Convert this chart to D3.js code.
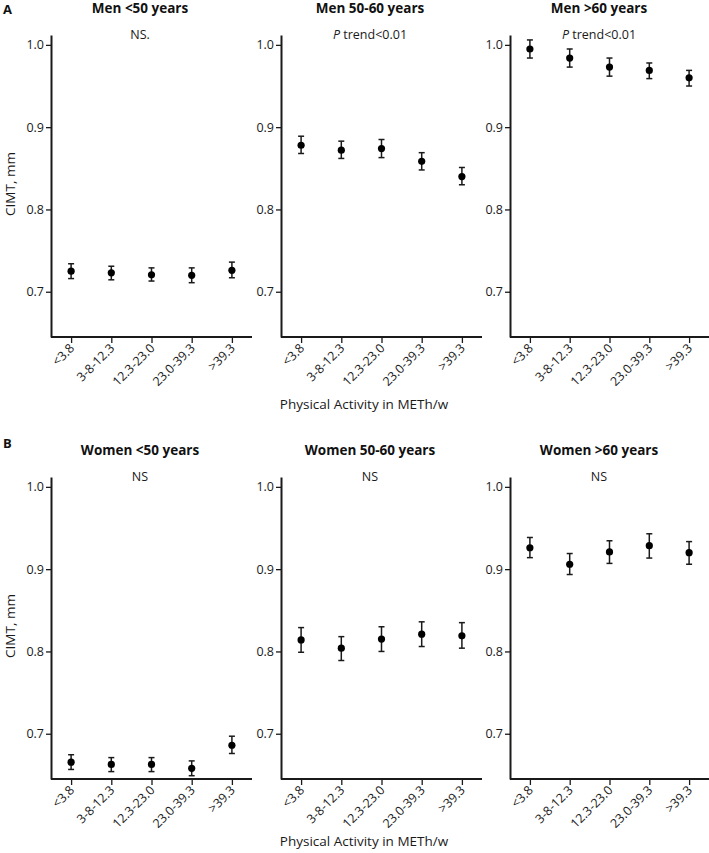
<!DOCTYPE html>
<html>
<head>
<meta charset="utf-8">
<script src="https://cdn.jsdelivr.net/npm/d3@7"></script>
<style>
  body { margin: 0; background: #fff; }
  svg { display: block; font-family: "Open Sans", "Noto Sans", sans-serif; }
</style>
</head>
<body>
<div id="chart"></div>
<script>
const categories = ["<3.8", "3-8-12.3", "12.3-23.0", "23.0-39.3", ">39.3"];
const yTicks = [0.7, 0.8, 0.9, 1.0];

const titles = ["Men <50 years", "Men 50-60 years", "Men >60 years",
                "Women <50 years", "Women 50-60 years", "Women >60 years"];
const notes = ["NS.", "P trend<0.01", "P trend<0.01", "NS", "NS", "NS"];

// means, lower, upper per panel
const menU50 = [0.725, 0.723, 0.7205, 0.720, 0.726];
const menU50Lo = [0.716, 0.7145, 0.713, 0.711, 0.717];
const menU50Hi = [0.734, 0.731, 0.729, 0.729, 0.736];

const men5060 = [0.878, 0.872, 0.874, 0.8585, 0.840];
const men5060Lo = [0.868, 0.862, 0.863, 0.848, 0.830];
const men5060Hi = [0.889, 0.883, 0.885, 0.869, 0.851];

const menO60 = [0.995, 0.984, 0.973, 0.969, 0.960];
const menO60Lo = [0.984, 0.973, 0.962, 0.959, 0.950];
const menO60Hi = [1.006, 0.995, 0.984, 0.978, 0.969];

const womU50 = [0.6655, 0.6627, 0.6627, 0.658, 0.686];
const womU50Lo = [0.6566, 0.654, 0.654, 0.649, 0.676];
const womU50Hi = [0.6745, 0.671, 0.671, 0.667, 0.697];

const wom5060 = [0.814, 0.804, 0.815, 0.821, 0.819];
const wom5060Lo = [0.799, 0.789, 0.800, 0.806, 0.804];
const wom5060Hi = [0.829, 0.818, 0.830, 0.836, 0.835];

const womO60 = [0.926, 0.906, 0.921, 0.9285, 0.920];
const womO60Lo = [0.914, 0.8935, 0.907, 0.9135, 0.906];
const womO60Hi = [0.9385, 0.919, 0.9345, 0.943, 0.9335];

const series = [
  [menU50, menU50Lo, menU50Hi], [men5060, men5060Lo, men5060Hi], [menO60, menO60Lo, menO60Hi],
  [womU50, womU50Lo, womU50Hi], [wom5060, wom5060Lo, wom5060Hi], [womO60, womO60Lo, womO60Hi]
];

const W = 709, H = 853;
const ink = "#1a1a1a";
const svg = d3.select("#chart").append("svg").attr("width", W).attr("height", H);

const colX = [[51, 252], [281, 482], [510, 709]];
const rowTop = [35, 477];     // top of y axis line
const plotH = 302;

const panelLetters = ["A", "B"];

series.forEach((s, i) => {
  const row = Math.floor(i / 3), col = i % 3;
  const top = rowTop[row], bottom = top + plotH;
  const x = d3.scalePoint().domain(categories).range(colX[col]).padding(0.5);
  const y = d3.scaleLinear().domain([0.645, 1.012]).range([bottom, top]);
  const g = svg.append("g");

  // y axis
  const ya = g.append("g").attr("transform", `translate(${colX[col][0]},0)`)
    .call(d3.axisLeft(y).tickValues(yTicks).tickFormat(d3.format(".1f")).tickSize(5).tickSizeOuter(0).tickPadding(2));
  ya.select(".domain").attr("stroke", ink).attr("stroke-width", 2);
  ya.selectAll(".tick line").attr("stroke", ink).attr("stroke-width", 1.3);
  ya.selectAll(".tick text").attr("fill", ink).style("font-size", "12.5px")
    .style("font-family", '"Open Sans", sans-serif');

  // x axis
  const xa = g.append("g").attr("transform", `translate(0,${bottom})`)
    .call(d3.axisBottom(x).tickSize(6).tickSizeOuter(0).tickFormat(""));
  xa.select(".domain").attr("stroke", ink).attr("stroke-width", 2)
    .attr("d", `M${colX[col][0]},0H${colX[col][1]}`);
  xa.selectAll(".tick line").attr("stroke", ink).attr("stroke-width", 1.3);

  g.selectAll(".xl").data(categories).enter().append("text")
    .attr("transform", d => `translate(${x(d) + 4},${bottom + 12}) rotate(-45)`)
    .attr("text-anchor", "end")
    .attr("fill", ink).style("font-size", "12.5px")
    .text(d => d);

  // error bars
  const [m, lo, hi] = s;
  const capW = 3;
  categories.forEach((c, k) => {
    const cx = x(c);
    g.append("line").attr("x1", cx).attr("x2", cx).attr("y1", y(lo[k])).attr("y2", y(hi[k]))
      .attr("stroke", ink).attr("stroke-width", 1.5);
    g.append("line").attr("x1", cx - capW).attr("x2", cx + capW).attr("y1", y(lo[k])).attr("y2", y(lo[k]))
      .attr("stroke", ink).attr("stroke-width", 1.5);
    g.append("line").attr("x1", cx - capW).attr("x2", cx + capW).attr("y1", y(hi[k])).attr("y2", y(hi[k]))
      .attr("stroke", ink).attr("stroke-width", 1.5);
    g.append("circle").attr("cx", cx).attr("cy", y(m[k])).attr("r", 3.6).attr("fill", "#000");
  });

  // title
  const cxTitle = colX[col][0] + 89;
  g.append("text").attr("x", cxTitle).attr("y", top - 22)
    .attr("text-anchor", "middle").attr("font-weight", "bold").attr("fill", "#111")
    .style("font-size", "13.5px").text(titles[i]);

  // note
  const note = g.append("text").attr("x", cxTitle).attr("y", top + 4)
    .attr("text-anchor", "middle").attr("fill", ink).style("font-size", "12.5px");
  if (notes[i].startsWith("P ")) {
    note.append("tspan").attr("font-style", "italic").text("P");
    note.append("tspan").text(notes[i].slice(1));
  } else {
    note.text(notes[i]);
  }

  if (col === 0) {
    svg.append("text").attr("transform", `translate(15,${top + 149}) rotate(-90)`)
      .attr("text-anchor", "middle").attr("fill", ink).style("font-size", "13.5px")
      .text("CIMT, mm");
    svg.append("text").attr("x", 3).attr("y", top - 21 + (row === 1 ? -8 : 0))
      .attr("font-weight", "bold").attr("fill", "#111").style("font-size", "13px")
      .text(panelLetters[row]);
  }
  if (col === 1) {
    svg.append("text").attr("x", 364).attr("y", row === 0 ? bottom + 72 : bottom + 67)
      .attr("text-anchor", "middle").attr("fill", ink).style("font-size", "13.5px")
      .text("Physical Activity in METh/w");
  }
});
</script>
</body>
</html>
